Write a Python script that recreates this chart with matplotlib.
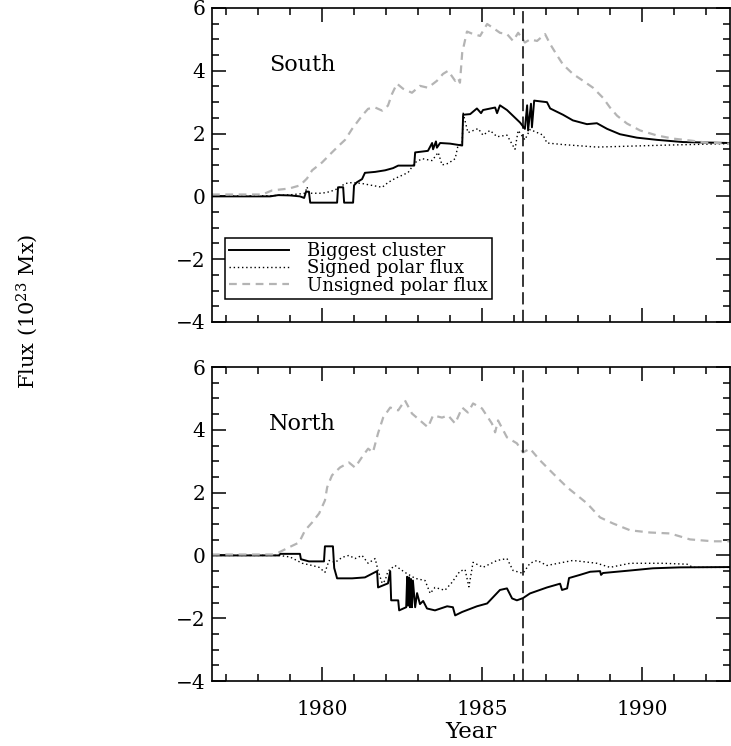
import numpy as np
from matplotlib import pyplot as plt
from matplotlib.ticker import MultipleLocator

# South hemisphere
south_cl_yr = [1976.56, 1978.38, 1978.63, 1979.00, 1979.31, 1979.44, 1979.50, 1979.59, 1979.63, 1980.47,
               1980.50, 1980.66, 1980.69, 1980.97, 1981.00, 1981.09, 1981.25, 1981.34, 1981.66, 1981.97,
               1982.22, 1982.38, 1982.88, 1982.91, 1983.31, 1983.44, 1983.47, 1983.56, 1983.59, 1983.69,
               1984.00, 1984.38, 1984.41, 1984.63, 1984.84, 1984.97, 1985.03, 1985.41, 1985.47, 1985.56,
               1985.78, 1986.19, 1986.34, 1986.41, 1986.44, 1986.53, 1986.56, 1986.63, 1987.03, 1987.13,
               1987.53, 1987.84, 1988.28, 1988.59, 1988.91, 1989.31, 1989.84, 1990.47, 1991.28, 1992.75]
south_cl = [0, 0, 0.04, 0.03, 0, -0.05, 0.15, 0.15, -0.2, -0.2,
            0.29, 0.29, -0.2, -0.2, 0.35, 0.45, 0.55, 0.75, 0.78, 0.83,
            0.9, 0.98, 0.98, 1.4, 1.45, 1.7, 1.5, 1.75, 1.55, 1.7,
            1.68, 1.62, 2.6, 2.62, 2.8, 2.65, 2.75, 2.83, 2.65, 2.9,
            2.75, 2.35, 2.15, 2.9, 2.1, 2.95, 2.2, 3.05, 3.0, 2.8,
            2.6, 2.42, 2.3, 2.33, 2.15, 1.98, 1.87, 1.8, 1.73, 1.7]

south_sg_yr = [1976.56, 1978.38, 1979.00, 1979.31, 1979.47, 1979.53, 1979.59, 1980.00, 1980.25, 1980.50,
               1980.72, 1980.94, 1981.25, 1981.56, 1981.88, 1982.06, 1982.28, 1982.50, 1982.69, 1982.91,
               1983.13, 1983.44, 1983.63, 1983.75, 1983.94, 1984.16, 1984.25, 1984.38, 1984.41, 1984.56,
               1984.88, 1985.03, 1985.25, 1985.47, 1985.78, 1986.03, 1986.13, 1986.34, 1986.50, 1986.91,
               1987.03, 1987.53, 1988.59, 1989.63, 1990.66, 1992.75]
south_sg = [0, 0.02, 0.05, 0.08, 0.1, 0.3, 0.1, 0.1, 0.15, 0.25,
            0.41, 0.44, 0.41, 0.35, 0.29, 0.44, 0.57, 0.67, 0.76, 1.08,
            1.2, 1.14, 1.4, 1.0, 1.05, 1.2, 1.62, 1.68, 2.65, 2.03,
            2.16, 1.95, 2.1, 1.9, 1.95, 1.5, 2.1, 1.8, 2.13, 1.95,
            1.7, 1.65, 1.57, 1.6, 1.63, 1.68]

south_us_yr = [1976.56, 1978.13, 1978.44, 1978.97, 1979.31, 1979.53, 1979.69, 1980.00, 1980.31, 1980.53,
               1980.72, 1980.94, 1981.25, 1981.44, 1981.66, 1981.88, 1982.06, 1982.19, 1982.34, 1982.53,
               1982.81, 1983.06, 1983.31, 1983.59, 1983.78, 1983.94, 1984.16, 1984.25, 1984.31, 1984.38,
               1984.53, 1984.72, 1984.94, 1985.16, 1985.34, 1985.56, 1985.78, 1985.97, 1986.13, 1986.34,
               1986.50, 1986.72, 1986.97, 1987.13, 1987.34, 1987.53, 1987.84, 1988.16, 1988.47, 1988.78,
               1989.00, 1989.22, 1989.53, 1989.94, 1990.47, 1990.97, 1991.50, 1992.03, 1992.75]
south_us = [0.06, 0.06, 0.19, 0.25, 0.35, 0.57, 0.83, 1.08, 1.4, 1.62,
            1.8, 2.15, 2.57, 2.79, 2.83, 2.73, 2.89, 3.27, 3.59, 3.43,
            3.3, 3.52, 3.46, 3.68, 3.9, 4.0, 3.68, 3.78, 3.62, 4.57,
            5.25, 5.17, 5.11, 5.49, 5.37, 5.21, 5.17, 4.95, 5.21, 4.9,
            5.0, 4.95, 5.17, 4.85, 4.5, 4.2, 3.9, 3.68, 3.46, 3.14,
            2.83, 2.57, 2.32, 2.1, 1.94, 1.84, 1.78, 1.71, 1.68]

# North hemisphere
north_cl_yr = [1976.56, 1978.66, 1978.69, 1979.31, 1979.34, 1979.59, 1980.06, 1980.09, 1980.34, 1980.38,
               1980.47, 1980.94, 1981.34, 1981.72, 1981.75, 1982.06, 1982.13, 1982.16, 1982.38, 1982.41,
               1982.63, 1982.66, 1982.69, 1982.72, 1982.75, 1982.78, 1982.81, 1982.84, 1982.91, 1982.97,
               1983.06, 1983.16, 1983.28, 1983.53, 1983.91, 1984.09, 1984.16, 1984.38, 1984.84, 1985.16,
               1985.56, 1985.78, 1985.94, 1986.09, 1986.28, 1986.50, 1987.03, 1987.44, 1987.50, 1987.66,
               1987.72, 1988.06, 1988.38, 1988.69, 1988.72, 1988.78, 1989.63, 1990.34, 1991.19, 1992.75]
north_cl = [0, 0, 0.05, 0.05, -0.12, -0.19, -0.19, 0.29, 0.29, -0.4,
            -0.73, -0.73, -0.7, -0.5, -1.02, -0.89, -0.5, -1.43, -1.43, -1.75,
            -1.65, -0.68, -1.6, -0.7, -1.65, -0.75, -1.65, -0.8, -1.65, -1.2,
            -1.55, -1.45, -1.69, -1.75, -1.62, -1.65, -1.91, -1.8, -1.62, -1.53,
            -1.1, -1.05, -1.37, -1.43, -1.36, -1.21, -1.02, -0.9, -1.1, -1.05,
            -0.72, -0.62, -0.52, -0.5, -0.62, -0.56, -0.48, -0.41, -0.38, -0.37]

north_sg_yr = [1976.56, 1978.66, 1979.00, 1979.38, 1979.69, 1979.91, 1980.09, 1980.22, 1980.41, 1980.63,
               1980.84, 1981.03, 1981.25, 1981.44, 1981.66, 1981.75, 1981.88, 1981.97, 1982.06, 1982.28,
               1982.59, 1982.91, 1983.22, 1983.38, 1983.53, 1983.84, 1984.06, 1984.31, 1984.47, 1984.59,
               1984.72, 1985.03, 1985.47, 1985.78, 1985.97, 1986.28, 1986.50, 1986.72, 1987.03, 1987.84,
               1988.59, 1989.00, 1989.63, 1990.66, 1991.41, 1991.59, 1992.75]
north_sg = [0, 0, -0.05, -0.25, -0.32, -0.38, -0.54, -0.16, -0.22, -0.06,
            0, -0.1, 0, -0.25, -0.1, -0.48, -0.89, -0.8, -0.5, -0.32,
            -0.54, -0.73, -0.8, -1.21, -1.02, -1.11, -0.86, -0.5, -0.45, -1.0,
            -0.22, -0.38, -0.16, -0.1, -0.48, -0.57, -0.25, -0.16, -0.32, -0.16,
            -0.25, -0.38, -0.25, -0.25, -0.28, -0.38, -0.38]

north_us_yr = [1976.56, 1978.44, 1978.66, 1978.97, 1979.28, 1979.47, 1979.69, 1979.91, 1980.09, 1980.16,
               1980.31, 1980.56, 1980.84, 1981.03, 1981.28, 1981.44, 1981.59, 1981.75, 1981.91, 1982.13,
               1982.38, 1982.59, 1982.81, 1983.06, 1983.31, 1983.47, 1983.75, 1983.94, 1984.16, 1984.38,
               1984.56, 1984.72, 1985.00, 1985.31, 1985.41, 1985.50, 1985.78, 1986.09, 1986.28, 1986.50,
               1986.81, 1987.22, 1987.66, 1988.28, 1988.69, 1989.09, 1989.63, 1990.25, 1990.88, 1991.50,
               1992.22, 1992.75]
north_us = [0.03, 0.03, 0.1, 0.26, 0.41, 0.8, 1.05, 1.34, 1.75, 2.17,
            2.55, 2.8, 2.96, 2.8, 3.18, 3.4, 3.28, 3.89, 4.39, 4.71,
            4.62, 4.94, 4.52, 4.3, 4.08, 4.46, 4.39, 4.46, 4.2, 4.71,
            4.55, 4.84, 4.68, 4.2, 3.92, 4.3, 3.76, 3.57, 3.28, 3.4,
            3.03, 2.61, 2.17, 1.66, 1.21, 1.02, 0.8, 0.73, 0.7, 0.51,
            0.45, 0.45]

cycle_min = 1986.27
gray = '#b4b4b4'
font = 'DejaVu Serif'

plt.rcParams['font.family'] = font
plt.rcParams['mathtext.fontset'] = 'dejavuserif'

fig = plt.figure(figsize=(7.31, 7.46), dpi=100)
ax1 = fig.add_axes([0.290, 0.5684, 0.7086, 0.4209])
ax2 = fig.add_axes([0.290, 0.0871, 0.7086, 0.4209])


def draw_panel(ax, name, cl_yr, cl, sg_yr, sg, us_yr, us):
    ax.plot(cl_yr, cl, color='black', lw=1.4, label='Biggest cluster')
    ax.plot(sg_yr, sg, color='black', lw=1.0, dashes=(1, 2), label='Signed polar flux')
    ax.plot(us_yr, us, color=gray, lw=1.6, dashes=(3.5, 2.5), label='Unsigned polar flux')
    ax.axvline(cycle_min, color='black', lw=1.1, dashes=(8, 3.5))
    ax.text(1978.34, 4.0, name, fontsize=16)
    ax.set_xlim(1976.56, 1992.75)
    ax.set_ylim(-4, 6)
    ax.xaxis.set_major_locator(MultipleLocator(5))
    ax.xaxis.set_minor_locator(MultipleLocator(1))
    ax.yaxis.set_major_locator(MultipleLocator(2))
    ax.yaxis.set_minor_locator(MultipleLocator(0.5))
    ax.tick_params(which='both', direction='in', top=True, right=True, labelsize=14.5, width=1.1)
    ax.tick_params(which='major', length=10)
    ax.tick_params(which='minor', length=5)
    ax.tick_params(axis='x', which='major', pad=14)
    ax.tick_params(axis='y', which='major', pad=5)
    for s in ax.spines.values():
        s.set_linewidth(1.2)


draw_panel(ax1, 'South', south_cl_yr, south_cl, south_sg_yr, south_sg, south_us_yr, south_us)
draw_panel(ax2, 'North', north_cl_yr, north_cl, north_sg_yr, north_sg, north_us_yr, north_us)
ax1.tick_params(labelbottom=False)

leg = ax1.legend(loc='lower left', bbox_to_anchor=(0.025, 0.073), fontsize=13, handlelength=3.3,
                 handletextpad=1.0, labelspacing=-0.05, borderpad=0.25, borderaxespad=0, fancybox=False,
                 framealpha=1)
leg.get_frame().set_edgecolor('black')
leg.get_frame().set_linewidth(1.1)

ax2.set_xlabel('Year', fontsize=16.5, labelpad=1)
fig.text(27 / 731, 1 - 311 / 746, r'Flux (10$^{23}$ Mx)', rotation=90, fontsize=15,
         ha='center', va='center')

fig.savefig('out.png', dpi=100)
